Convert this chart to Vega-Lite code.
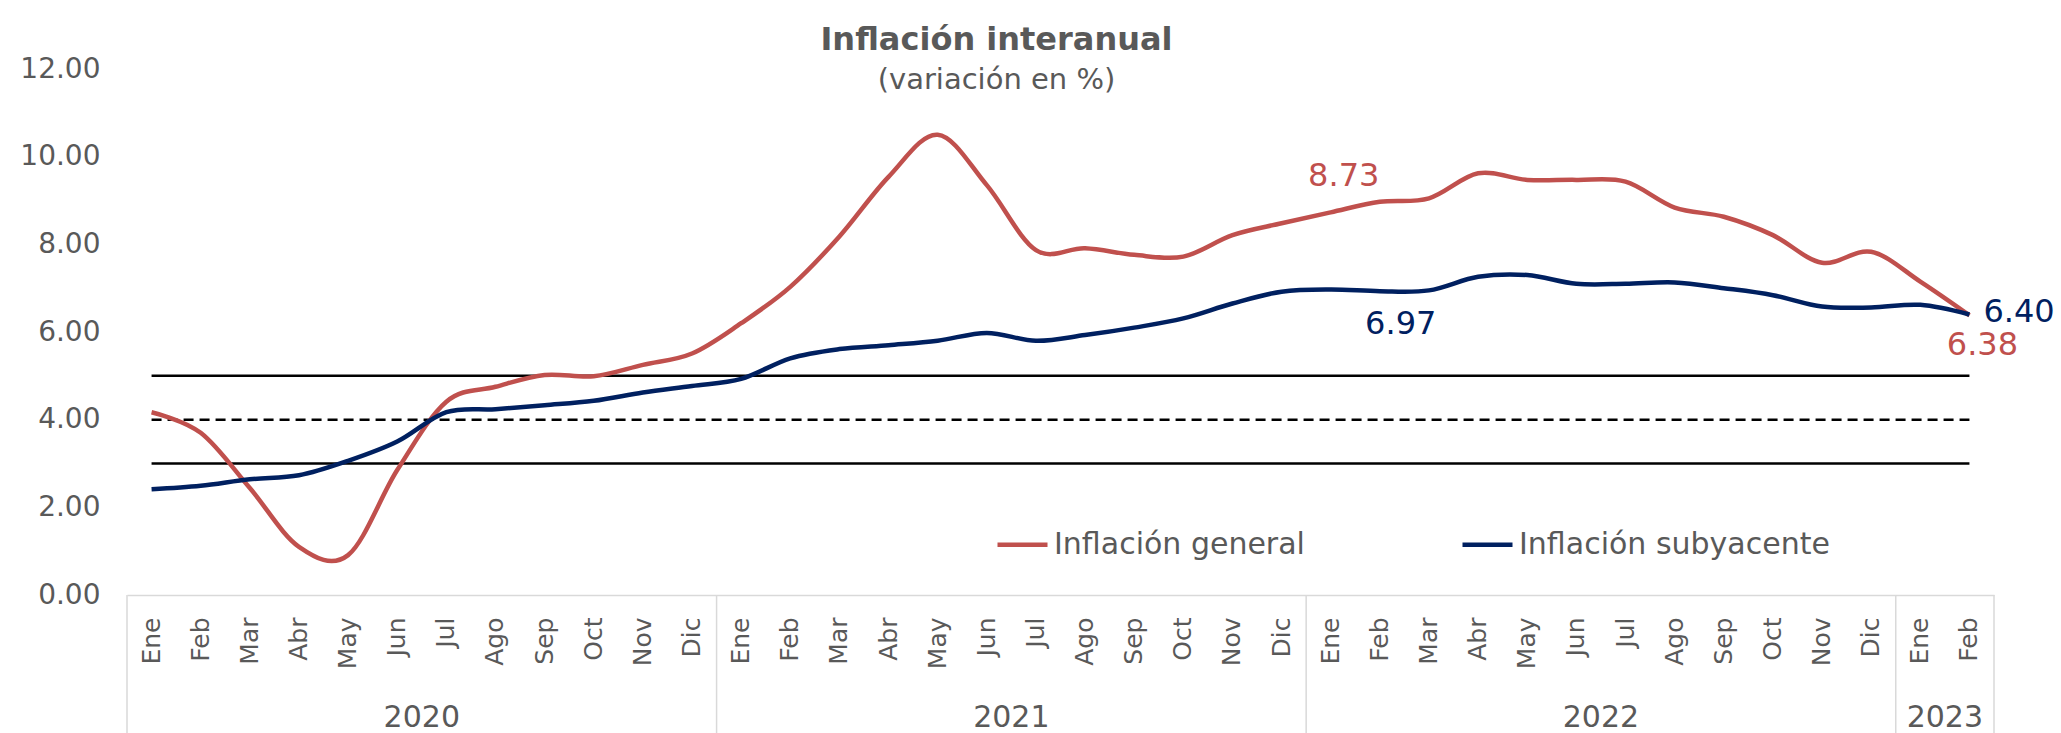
{
  "$schema": "https://vega.github.io/schema/vega-lite/v6.json",
  "width": 1867,
  "height": 526,
  "autosize": {"type": "none"},
  "padding": {"left": 127, "top": 69, "right": 67, "bottom": 138},
  "background": "white",
  "config": {"view": {"stroke": null}, "font": "DejaVu Sans"},
  "title": {
    "text": "Inflación interanual",
    "subtitle": "(variación en %)",
    "font": "DejaVu Sans",
    "fontSize": 32,
    "fontWeight": "bold",
    "color": "#595959",
    "subtitleFont": "DejaVu Sans",
    "subtitleFontSize": 29,
    "subtitleColor": "#595959",
    "subtitlePadding": 9,
    "anchor": "middle",
    "dx": -64,
    "dy": 23,
    "offset": -18
  },
  "datasets": {
    "inflacion": [
      {"periodo": "2020-01", "serie": "Inflación general", "valor": 4.17},
      {"periodo": "2020-02", "serie": "Inflación general", "valor": 3.70},
      {"periodo": "2020-03", "serie": "Inflación general", "valor": 2.44},
      {"periodo": "2020-04", "serie": "Inflación general", "valor": 1.10},
      {"periodo": "2020-05", "serie": "Inflación general", "valor": 0.91},
      {"periodo": "2020-06", "serie": "Inflación general", "valor": 2.85},
      {"periodo": "2020-07", "serie": "Inflación general", "valor": 4.41},
      {"periodo": "2020-08", "serie": "Inflación general", "valor": 4.75},
      {"periodo": "2020-09", "serie": "Inflación general", "valor": 5.02},
      {"periodo": "2020-10", "serie": "Inflación general", "valor": 4.99},
      {"periodo": "2020-11", "serie": "Inflación general", "valor": 5.25},
      {"periodo": "2020-12", "serie": "Inflación general", "valor": 5.51},
      {"periodo": "2021-01", "serie": "Inflación general", "valor": 6.20},
      {"periodo": "2021-02", "serie": "Inflación general", "valor": 7.03},
      {"periodo": "2021-03", "serie": "Inflación general", "valor": 8.18},
      {"periodo": "2021-04", "serie": "Inflación general", "valor": 9.54},
      {"periodo": "2021-05", "serie": "Inflación general", "valor": 10.50},
      {"periodo": "2021-06", "serie": "Inflación general", "valor": 9.35},
      {"periodo": "2021-07", "serie": "Inflación general", "valor": 7.87},
      {"periodo": "2021-08", "serie": "Inflación general", "valor": 7.91},
      {"periodo": "2021-09", "serie": "Inflación general", "valor": 7.76},
      {"periodo": "2021-10", "serie": "Inflación general", "valor": 7.72},
      {"periodo": "2021-11", "serie": "Inflación general", "valor": 8.21},
      {"periodo": "2021-12", "serie": "Inflación general", "valor": 8.48},
      {"periodo": "2022-01", "serie": "Inflación general", "valor": 8.73},
      {"periodo": "2022-02", "serie": "Inflación general", "valor": 8.97},
      {"periodo": "2022-03", "serie": "Inflación general", "valor": 9.05},
      {"periodo": "2022-04", "serie": "Inflación general", "valor": 9.62},
      {"periodo": "2022-05", "serie": "Inflación general", "valor": 9.47},
      {"periodo": "2022-06", "serie": "Inflación general", "valor": 9.47},
      {"periodo": "2022-07", "serie": "Inflación general", "valor": 9.43},
      {"periodo": "2022-08", "serie": "Inflación general", "valor": 8.84},
      {"periodo": "2022-09", "serie": "Inflación general", "valor": 8.63},
      {"periodo": "2022-10", "serie": "Inflación general", "valor": 8.21},
      {"periodo": "2022-11", "serie": "Inflación general", "valor": 7.58},
      {"periodo": "2022-12", "serie": "Inflación general", "valor": 7.83},
      {"periodo": "2023-01", "serie": "Inflación general", "valor": 7.15},
      {"periodo": "2023-02", "serie": "Inflación general", "valor": 6.38},
      {"periodo": "2020-01", "serie": "Inflación subyacente", "valor": 2.41},
      {"periodo": "2020-02", "serie": "Inflación subyacente", "valor": 2.49},
      {"periodo": "2020-03", "serie": "Inflación subyacente", "valor": 2.64},
      {"periodo": "2020-04", "serie": "Inflación subyacente", "valor": 2.73},
      {"periodo": "2020-05", "serie": "Inflación subyacente", "valor": 3.06},
      {"periodo": "2020-06", "serie": "Inflación subyacente", "valor": 3.50},
      {"periodo": "2020-07", "serie": "Inflación subyacente", "valor": 4.17},
      {"periodo": "2020-08", "serie": "Inflación subyacente", "valor": 4.24},
      {"periodo": "2020-09", "serie": "Inflación subyacente", "valor": 4.33},
      {"periodo": "2020-10", "serie": "Inflación subyacente", "valor": 4.43},
      {"periodo": "2020-11", "serie": "Inflación subyacente", "valor": 4.62},
      {"periodo": "2020-12", "serie": "Inflación subyacente", "valor": 4.77},
      {"periodo": "2021-01", "serie": "Inflación subyacente", "valor": 4.93},
      {"periodo": "2021-02", "serie": "Inflación subyacente", "valor": 5.40},
      {"periodo": "2021-03", "serie": "Inflación subyacente", "valor": 5.61},
      {"periodo": "2021-04", "serie": "Inflación subyacente", "valor": 5.70},
      {"periodo": "2021-05", "serie": "Inflación subyacente", "valor": 5.80},
      {"periodo": "2021-06", "serie": "Inflación subyacente", "valor": 5.98},
      {"periodo": "2021-07", "serie": "Inflación subyacente", "valor": 5.80},
      {"periodo": "2021-08", "serie": "Inflación subyacente", "valor": 5.93},
      {"periodo": "2021-09", "serie": "Inflación subyacente", "valor": 6.10},
      {"periodo": "2021-10", "serie": "Inflación subyacente", "valor": 6.31},
      {"periodo": "2021-11", "serie": "Inflación subyacente", "valor": 6.65},
      {"periodo": "2021-12", "serie": "Inflación subyacente", "valor": 6.92},
      {"periodo": "2022-01", "serie": "Inflación subyacente", "valor": 6.97},
      {"periodo": "2022-02", "serie": "Inflación subyacente", "valor": 6.93},
      {"periodo": "2022-03", "serie": "Inflación subyacente", "valor": 6.95},
      {"periodo": "2022-04", "serie": "Inflación subyacente", "valor": 7.26},
      {"periodo": "2022-05", "serie": "Inflación subyacente", "valor": 7.30},
      {"periodo": "2022-06", "serie": "Inflación subyacente", "valor": 7.10},
      {"periodo": "2022-07", "serie": "Inflación subyacente", "valor": 7.10},
      {"periodo": "2022-08", "serie": "Inflación subyacente", "valor": 7.13},
      {"periodo": "2022-09", "serie": "Inflación subyacente", "valor": 7.00},
      {"periodo": "2022-10", "serie": "Inflación subyacente", "valor": 6.84},
      {"periodo": "2022-11", "serie": "Inflación subyacente", "valor": 6.58},
      {"periodo": "2022-12", "serie": "Inflación subyacente", "valor": 6.56},
      {"periodo": "2023-01", "serie": "Inflación subyacente", "valor": 6.62},
      {"periodo": "2023-02", "serie": "Inflación subyacente", "valor": 6.40}
    ],
    "rango_meta": [
      {"periodo": "2020-01", "periodo_fin": "2023-02", "nivel": 5},
      {"periodo": "2020-01", "periodo_fin": "2023-02", "nivel": 3}
    ],
    "meta_central": [
      {"periodo": "2020-01", "periodo_fin": "2023-02", "nivel": 4}
    ],
    "inicio_anio": [
      {"periodo": "2020-01"},
      {"periodo": "2021-01"},
      {"periodo": "2022-01"},
      {"periodo": "2023-01"}
    ],
    "fin_serie": [
      {"periodo": "2023-02"}
    ],
    "anios": [
      {"periodo": "2020-07", "anio": "2020"},
      {"periodo": "2021-07", "anio": "2021"},
      {"periodo": "2022-07", "anio": "2022"},
      {"periodo": "2023-02", "anio": "2023"}
    ]
  },
  "layer": [
    {
      "data": {"name": "rango_meta"},
      "mark": {"type": "rule", "color": "#000000", "strokeWidth": 2.5},
      "encoding": {
        "x": {"field": "periodo", "type": "ordinal", "title": null, "scale": {"type": "band", "paddingInner": 0, "paddingOuter": 0}},
        "x2": {"field": "periodo_fin"},
        "y": {"field": "nivel", "type": "quantitative", "title": null, "scale": {"domain": [0, 12], "nice": false}}
      }
    },
    {
      "data": {"name": "meta_central"},
      "mark": {"type": "rule", "color": "#000000", "strokeWidth": 2.5, "strokeDash": [10, 6]},
      "encoding": {
        "x": {"field": "periodo", "type": "ordinal", "title": null},
        "x2": {"field": "periodo_fin"},
        "y": {"field": "nivel", "type": "quantitative", "title": null, "scale": {"domain": [0, 12], "nice": false}}
      }
    },
    {
      "data": {"name": "inflacion"},
      "mark": {"type": "line", "interpolate": "cardinal", "strokeWidth": 4.5},
      "encoding": {
        "x": {
          "field": "periodo",
          "type": "ordinal",
          "title": null,
          "axis": {
            "labelAngle": -90,
            "labelExpr": "['Ene','Feb','Mar','Abr','May','Jun','Jul','Ago','Sep','Oct','Nov','Dic'][toNumber(substring(datum.value,5,7))-1]",
            "labelFont": "DejaVu Sans",
            "labelFontSize": 25,
            "labelColor": "#595959",
            "labelPadding": 22,
            "ticks": false,
            "grid": false,
            "domainColor": "#d9d9d9",
            "domainWidth": 1.5
          }
        },
        "y": {
          "field": "valor",
          "type": "quantitative",
          "title": null,
          "scale": {"domain": [0, 12], "nice": false},
          "axis": {
            "values": [0, 2, 4, 6, 8, 10, 12],
            "format": ".2f",
            "labelFont": "DejaVu Sans",
            "labelFontSize": 28,
            "labelColor": "#595959",
            "labelPadding": 27,
            "ticks": false,
            "domain": false,
            "grid": false
          }
        },
        "color": {
          "field": "serie",
          "type": "nominal",
          "scale": {"domain": ["Inflación general", "Inflación subyacente"], "range": ["#C0504D", "#002060"]},
          "legend": {
            "orient": "none",
            "legendX": 868,
            "legendY": 448,
            "direction": "horizontal",
            "title": null,
            "symbolType": "stroke",
            "symbolSize": 2500,
            "symbolStrokeWidth": 4.5,
            "labelFont": "DejaVu Sans",
            "labelFontSize": 30,
            "labelColor": "#595959",
            "labelLimit": 600,
            "labelOffset": 4,
            "columnPadding": 148
          }
        }
      }
    },
    {
      "data": {"name": "inicio_anio"},
      "mark": {"type": "rule", "color": "#d9d9d9", "strokeWidth": 1.5},
      "encoding": {
        "x": {"field": "periodo", "type": "ordinal", "bandPosition": 0, "title": null},
        "y": {"datum": 0, "type": "quantitative", "title": null, "scale": {"domain": [0, 12], "nice": false}},
        "y2": {"datum": -3.15}
      }
    },
    {
      "data": {"name": "fin_serie"},
      "mark": {"type": "rule", "color": "#d9d9d9", "strokeWidth": 1.5},
      "encoding": {
        "x": {"field": "periodo", "type": "ordinal", "bandPosition": 1, "title": null},
        "y": {"datum": 0, "type": "quantitative", "title": null, "scale": {"domain": [0, 12], "nice": false}},
        "y2": {"datum": -3.15}
      }
    },
    {
      "data": {"name": "anios"},
      "mark": {"type": "text", "fontSize": 30, "color": "#595959", "font": "DejaVu Sans", "baseline": "middle", "align": "center"},
      "encoding": {
        "x": {"field": "periodo", "type": "ordinal", "bandPosition": 0, "title": null},
        "y": {"datum": -2.81, "type": "quantitative", "title": null, "scale": {"domain": [0, 12], "nice": false}},
        "text": {"field": "anio"}
      }
    },
    {
      "data": {"name": "inflacion"},
      "transform": [{"filter": "datum.periodo == '2022-01' && datum.serie == 'Inflación general'"}],
      "mark": {"type": "text", "fontSize": 32, "color": "#C0504D", "font": "DejaVu Sans", "baseline": "middle", "align": "center", "dx": 13, "dy": -36},
      "encoding": {
        "x": {"field": "periodo", "type": "ordinal", "title": null},
        "y": {"field": "valor", "type": "quantitative", "title": null, "scale": {"domain": [0, 12], "nice": false}},
        "text": {"field": "valor", "format": ".2f"}
      }
    },
    {
      "data": {"name": "inflacion"},
      "transform": [{"filter": "datum.periodo == '2022-01' && datum.serie == 'Inflación subyacente'"}],
      "mark": {"type": "text", "fontSize": 32, "color": "#002060", "font": "DejaVu Sans", "baseline": "middle", "align": "center", "dx": 70, "dy": 35},
      "encoding": {
        "x": {"field": "periodo", "type": "ordinal", "title": null},
        "y": {"field": "valor", "type": "quantitative", "title": null, "scale": {"domain": [0, 12], "nice": false}},
        "text": {"field": "valor", "format": ".2f"}
      }
    },
    {
      "data": {"name": "inflacion"},
      "transform": [{"filter": "datum.periodo == '2023-02' && datum.serie == 'Inflación subyacente'"}],
      "mark": {"type": "text", "fontSize": 32, "color": "#002060", "font": "DejaVu Sans", "baseline": "middle", "align": "left", "dx": 14, "dy": -2},
      "encoding": {
        "x": {"field": "periodo", "type": "ordinal", "title": null},
        "y": {"field": "valor", "type": "quantitative", "title": null, "scale": {"domain": [0, 12], "nice": false}},
        "text": {"field": "valor", "format": ".2f"}
      }
    },
    {
      "data": {"name": "inflacion"},
      "transform": [{"filter": "datum.periodo == '2023-02' && datum.serie == 'Inflación general'"}],
      "mark": {"type": "text", "fontSize": 32, "color": "#C0504D", "font": "DejaVu Sans", "baseline": "middle", "align": "center", "dx": 13, "dy": 30},
      "encoding": {
        "x": {"field": "periodo", "type": "ordinal", "title": null},
        "y": {"field": "valor", "type": "quantitative", "title": null, "scale": {"domain": [0, 12], "nice": false}},
        "text": {"field": "valor", "format": ".2f"}
      }
    }
  ]
}
